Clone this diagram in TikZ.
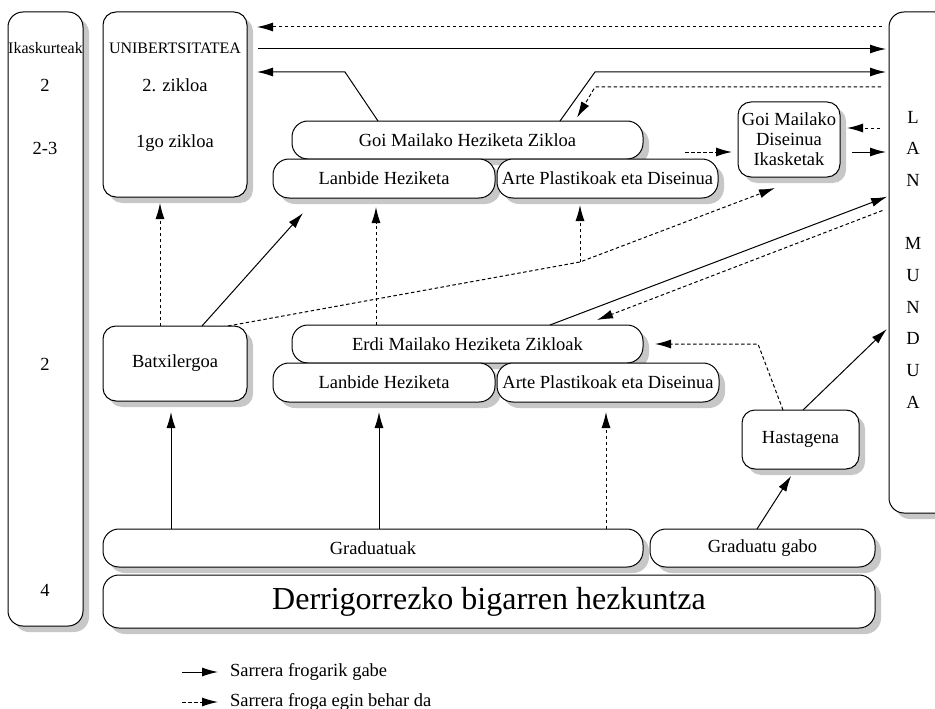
\documentclass[tikz,border=0pt]{standalone}
\usepackage{fontspec}
\setmainfont{Liberation Serif}
\newcommand*{\boxfont}{\fontsize{18.5}{20}\selectfont}
\newcommand*{\narrowfont}{\fontsize{16}{18}\selectfont}
\newcommand*{\bigfont}{\fontsize{32}{36}\selectfont}
\definecolor{shadowgrey}{gray}{0.78}
\usetikzlibrary{arrows.meta}
\usetikzlibrary{shadows}
\tikzstyle{base}=[x=1pt, y=-1pt, inner sep=0pt, outer sep=0pt, line width=1pt, font=\boxfont, >={Latex[length=16pt,width=9pt]}]
\tikzstyle{boxed}=[draw=black, fill=white, rounded corners=13pt, drop shadow={shadow xshift=6pt, shadow yshift=-6pt, fill=shadowgrey, opacity=1}]
\tikzstyle{bar}=[boxed, rounded corners=16pt]
\tikzstyle{libre}=[->]
\tikzstyle{froga}=[->, dash pattern=on 3.5pt off 2.5pt]
\tikzstyle{tobox}=[shorten >=10pt]

\begin{document}
\begin{tikzpicture}[base]
    \boxfont
        \path [use as bounding box] (0,0) rectangle (935,709);
        % columns
        \node [boxed, rounded corners=15pt, minimum width=75pt, minimum height=614pt] (ikas) at (45.5,319) {};
        \node [boxed, minimum width=144pt, minimum height=185pt] (unib) at (175,104.5) {};
        \node [boxed, rounded corners=15pt, minimum width=61pt, minimum height=501pt] (lan) at (919.5,262.5) {};
        \node [font=\narrowfont] (ikasname) at (45.5,48) {Ikaskurteak};
        \node (ikas1) at (45,85) {2};
        \node (ikas2) at (45,148) {2-3};
        \node (ikas3) at (45,364) {2};
        \node (ikas4) at (45,590) {4};
        \node [font=\narrowfont] (unibname) at (175,48) {UNIBERTSITATEA};
        \node (unib2) at (175,85) {2. zikloa};
        \node (unib1) at (175,143) {1go zikloa};
        \foreach \letter/\row in {L/0,A/1,N/2,M/4,U/5,N/6,D/7,U/8,A/9}
            \node (lan\row) at (913,117+31.7*\row) {\letter};
        % boxes
        \node [bar, minimum width=351pt, minimum height=38pt] (goi) at (467.5,140) {Goi Mailako Heziketa Zikloa};
        \node [bar, minimum width=222pt, minimum height=39pt] (lanb1) at (384,178.5) {Lanbide Heziketa};
        \node [bar, minimum width=221pt, minimum height=39pt] (arte1) at (607.5,178.5) {Arte Plastikoak eta Diseinua};
        \node [boxed, align=center, minimum width=102pt, minimum height=75pt] (dis) at (789,139.5) {Goi Mailako\\Diseinua\\Ikasketak};
        \node [boxed, minimum width=144pt, minimum height=75pt] (batx) at (175,363.5) {Batxilergoa};
        \node [bar, minimum width=351pt, minimum height=38pt] (erdi) at (467.5,344) {Erdi Mailako Heziketa Zikloak};
        \node [bar, minimum width=222pt, minimum height=39pt] (lanb2) at (384,382.5) {Lanbide Heziketa};
        \node [bar, minimum width=222pt, minimum height=39pt] (arte2) at (608,382.5) {Arte Plastikoak eta Diseinua};
        \node [boxed, minimum width=117pt, minimum height=59pt] (hasta) at (800.5,439.5) {Hastagena};
        \node [bar, minimum width=540pt, minimum height=38pt] (grad) at (373,548) {Graduatuak};
        \node [bar, minimum width=225pt, minimum height=38pt] (gabo) at (762.5,548) {Graduatu gabo};
        \node [bar, font=\bigfont, minimum width=772pt, minimum height=53pt] (derri) at (489,601.5) {Derrigorrezko bigarren hezkuntza};
        % rows and bends
        \coordinate (h1) at (0,27);
        \coordinate (h2) at (0,49);
        \coordinate (h3) at (0,128);
        \coordinate (h4) at (0,152);
        \coordinate (k3) at (345,72);
        \coordinate (k4) at (595,72);
        \coordinate (k5) at (595,87);
        \coordinate (k6) at (685,152);
        \coordinate (k12) at (580,262);
        \coordinate (k15) at (758,344);
        % connectors
        \draw [froga, tobox, shorten <=7pt] (lan.west |- h1) -- (unib.east |- h1);
        \draw [libre, shorten <=11pt, shorten >=3pt] (unib.east |- h2) -- (lan.west |- h2);
        \draw [libre, tobox] ([xshift=86pt]goi.north west) -- (k3) -- (unib.east |- k3);
        \draw [libre, shorten >=3pt] ([xshift=268pt]goi.north west) -- (k4) -- (lan.west |- k4);
        \draw [froga, shorten <=8pt, shorten >=4pt] (lan.west |- k5) -- (k5) -- ([xshift=283pt]goi.north west);
        \draw [froga, shorten >=6pt] (k6) -- (dis.west |- k6);
        \draw [froga, shorten <=9pt, shorten >=7pt] (lan.west |- h3) -- (dis.east |- h3);
        \draw [libre, shorten <=12pt, shorten >=3pt] (dis.east |- h4) -- (lan.west |- h4);
        \draw [froga, shorten >=6pt] ([xshift=57pt]batx.north west) -- ([xshift=57pt]unib.south west);
        \draw [libre] ([xshift=99pt]batx.north west) -- ([xshift=30pt,yshift=-15pt]lanb1.south west);
        \draw [froga, shorten >=9pt] ([xshift=84pt]erdi.north west) -- ([xshift=-8pt]lanb1.south);
        \draw [froga] ([xshift=-19pt]batx.north east) -- (k12) -- ([xshift=37pt,yshift=-11pt]dis.south west);
        \draw [froga, shorten >=7pt] (k12) -- (arte1.south -| k12);
        \draw [libre, shorten >=2pt] ([xshift=258pt]erdi.north west) -- ([yshift=66.5pt]lan.west);
        \draw [froga, shorten <=7pt] ([yshift=54.5pt]lan.west) -- ([xshift=-46pt,yshift=5pt]erdi.north east);
        \draw [froga, shorten >=12pt] ([xshift=-17.5pt]hasta.north) -- (k15) -- (erdi.east);
        \draw [libre, shorten >=3pt] ([xshift=2.5pt]hasta.north) -- ([yshift=-64.5pt]lan.west);
        \draw [libre, shorten >=8pt] ([xshift=-5.5pt]gabo.north) -- ([xshift=-5pt]hasta.south);
        \draw [froga, tobox] ([xshift=233pt]grad.north) -- ([xshift=-2pt]arte2.south);
        \draw [libre, tobox] ([xshift=6pt]grad.north) -- ([xshift=-5pt]lanb2.south);
        \draw [libre, shorten >=11pt] ([xshift=68pt]grad.north west) -- ([xshift=-4pt]batx.south);
        % legend
        \node [anchor=west] (legfree) at (230,672) {Sarrera frogarik gabe};
        \node [anchor=west] (legtest) at (230,702) {Sarrera froga egin behar da};
        \draw [libre, shorten >=12pt] ([xshift=-48pt]legfree.west) -- (legfree.west);
        \draw [froga, shorten >=12pt] ([xshift=-48pt]legtest.west) -- (legtest.west);
    \end{tikzpicture}
\end{document}
